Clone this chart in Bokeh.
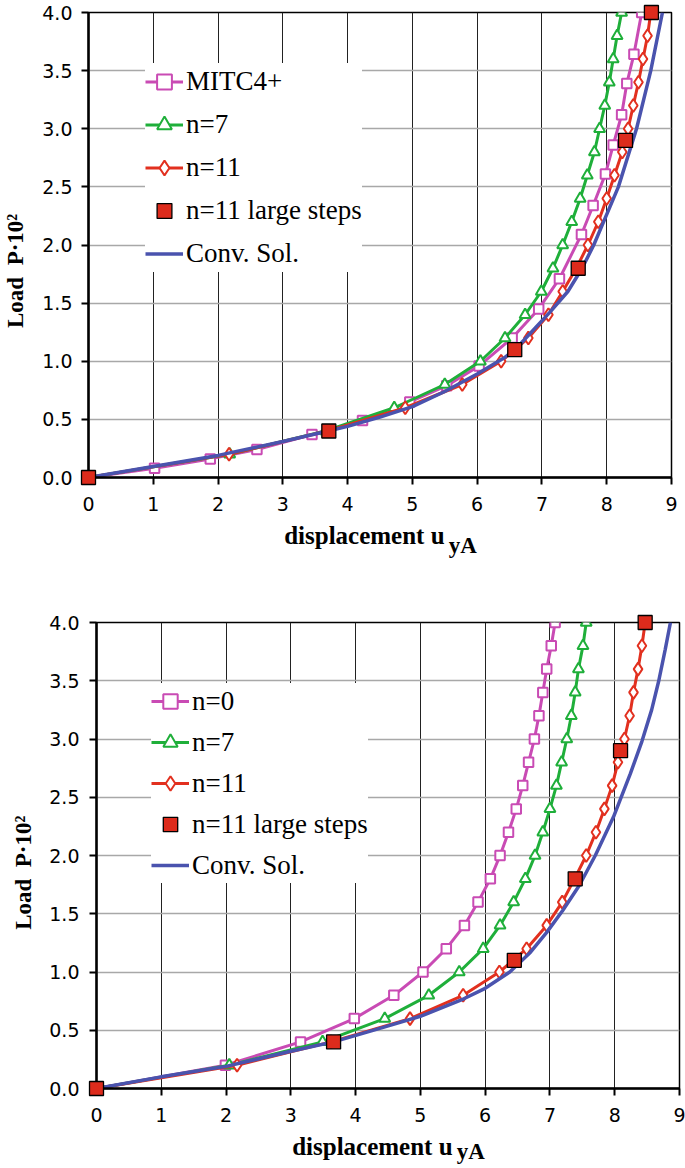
import numpy as np
from bokeh.plotting import figure
from bokeh.models import (Range1d, FixedTicker, PrintfTickFormatter, Legend, LegendItem,
                          LinearAxis)
from bokeh.embed import file_html
from bokeh.resources import INLINE

# ---------------- data ----------------
x_ticks = [0, 1, 2, 3, 4, 5, 6, 7, 8, 9]
y_ticks = [0.0, 0.5, 1.0, 1.5, 2.0, 2.5, 3.0, 3.5, 4.0]

load_steps = [0.0, 0.2, 0.4, 0.6, 0.8, 1.0, 1.2, 1.4, 1.6, 1.8, 2.0,
              2.2, 2.4, 2.6, 2.8, 3.0, 3.2, 3.4, 3.6, 3.8, 4.0]
large_steps_load = [0.0, 0.4, 1.1, 1.8, 2.9, 4.0]

# top chart
top_mitc_x = [0, 1.02, 1.88, 2.60, 3.45, 4.23, 4.96, 5.53, 6.03, 6.54, 6.95,
              7.27, 7.61, 7.79, 7.98, 8.10, 8.23, 8.31, 8.42, 8.54]
top_mitc_y = [0, 0.08, 0.16, 0.24, 0.37, 0.49, 0.65, 0.79, 0.96, 1.20, 1.45,
              1.71, 2.09, 2.34, 2.61, 2.86, 3.12, 3.39, 3.64, 4.00]
top_n7_x = [0, 2.18, 3.66, 4.72, 5.50, 6.05, 6.43, 6.74, 6.99, 7.17, 7.32,
            7.46, 7.59, 7.70, 7.81, 7.89, 7.97, 8.04, 8.10, 8.16, 8.23]
top_n11_x = [0, 2.17, 3.69, 4.89, 5.77, 6.37, 6.79, 7.10, 7.32, 7.53, 7.71,
             7.87, 8.00, 8.12, 8.24, 8.33, 8.41, 8.49, 8.56, 8.63, 8.68]
top_large_x = [0, 3.71, 6.58, 7.56, 8.29, 8.69]
top_conv_x = [0, 1, 2, 3, 3.7, 4, 4.5, 5, 5.5, 6, 6.42, 6.62, 7.12, 7.40,
              7.62, 7.80, 8.18, 8.46, 8.68, 8.86]
top_conv_y = [0, 0.095, 0.19, 0.31, 0.40, 0.44, 0.52, 0.61, 0.74, 0.89, 1.03,
              1.12, 1.42, 1.60, 1.80, 2.00, 2.50, 3.00, 3.50, 4.00]

# bottom chart
bot_n0_x = [0, 1.99, 3.15, 3.98, 4.59, 5.04, 5.40, 5.68, 5.89, 6.08, 6.23,
            6.36, 6.48, 6.58, 6.67, 6.76, 6.83, 6.89, 6.95, 7.02, 7.08]
bot_n7_x = [0, 2.05, 3.49, 4.45, 5.13, 5.60, 5.97, 6.23, 6.44, 6.62, 6.77,
            6.89, 7.00, 7.10, 7.18, 7.26, 7.33, 7.39, 7.44, 7.51, 7.56]
bot_n11_x = [0, 2.17, 3.62, 4.84, 5.66, 6.22, 6.64, 6.95, 7.19, 7.38, 7.56,
             7.71, 7.84, 7.96, 8.05, 8.15, 8.23, 8.29, 8.36, 8.42, 8.47]
bot_large_x = [0, 3.66, 6.45, 7.39, 8.09, 8.47]
bot_conv_x = [0, 1, 2, 3, 3.66, 4.4, 5.0, 5.67, 6.0, 6.38, 6.7, 6.95, 7.2,
              7.45, 7.7, 7.98, 8.24, 8.42, 8.57, 8.68, 8.78, 8.86]
bot_conv_y = [0, 0.10, 0.19, 0.32, 0.40, 0.52, 0.62, 0.77, 0.86, 1.00, 1.17,
              1.34, 1.53, 1.74, 2.00, 2.33, 2.70, 2.98, 3.25, 3.50, 3.77, 4.00]

# ---------------- style ----------------
MAG = "#C94BB4"
GRN = "#1FAF3A"
RED = "#E2301F"
BLU = "#4A53AE"
SQF = "#DD2B1C"
NB = "\u00a0"


def make_chart(height, b_left, b_right, b_top, b_bottom,
               first_name, first_x, first_y, n7_x, n11_x, large_x,
               conv_x, conv_y, legend_loc, row_h, row_gap, sub_pos, sub_standoff,
               ylab_pad, ytick_standoff, ylab_standoff):
    p = figure(width=685, height=height, output_backend="svg", toolbar_location=None,
               x_range=Range1d(0, 9), y_range=Range1d(0, 4),
               min_border_left=b_left, min_border_right=b_right,
               min_border_top=b_top, min_border_bottom=b_bottom)
    p.background_fill_color = "white"
    p.border_fill_color = "white"
    p.outline_line_color = "black"
    p.outline_line_width = 1.5

    p.xaxis.ticker = FixedTicker(ticks=x_ticks)
    p.yaxis.ticker = FixedTicker(ticks=y_ticks)
    p.yaxis.formatter = PrintfTickFormatter(format="%.1f")
    for ax in (p.xaxis, p.yaxis):
        ax.axis_line_width = 2.5
        ax.axis_line_color = "black"
        ax.major_tick_line_width = 2
        ax.major_tick_line_color = "black"
        ax.major_tick_in = 0
        ax.major_tick_out = 7
        ax.minor_tick_line_color = None
        ax.major_label_text_font = "DejaVu Sans"
        ax.major_label_text_font_size = "19px"
        ax.major_label_text_color = "black"
        ax.axis_label_text_font = "Liberation Serif"
        ax.axis_label_text_font_style = "bold"
        ax.axis_label_text_color = "black"
    p.xaxis.major_label_standoff = 12
    p.yaxis.major_label_standoff = ytick_standoff
    p.yaxis.axis_label = "Load" + NB + " P·10²" + NB * ylab_pad
    p.yaxis.axis_label_text_font_size = "23px"
    p.yaxis.axis_label_standoff = ylab_standoff
    p.xaxis.axis_label = "displacement u" + NB * 5
    p.xaxis.axis_label_text_font_size = "25px"
    p.xaxis.axis_label_standoff = 8

    # subscript of the axis title, drawn as the single tick label of an extra axis
    sub_axis = LinearAxis(ticker=FixedTicker(ticks=[sub_pos]),
                          formatter=PrintfTickFormatter(format="yA"))
    sub_axis.axis_line_color = None
    sub_axis.major_tick_in = 0
    sub_axis.major_tick_out = 0
    sub_axis.major_tick_line_color = None
    sub_axis.minor_tick_line_color = None
    sub_axis.major_label_standoff = sub_standoff
    sub_axis.major_label_text_font = "Liberation Serif"
    sub_axis.major_label_text_font_style = "bold"
    sub_axis.major_label_text_font_size = "23px"
    sub_axis.major_label_text_color = "black"
    p.add_layout(sub_axis, "below")

    p.xgrid.ticker = FixedTicker(ticks=x_ticks)
    p.ygrid.ticker = FixedTicker(ticks=y_ticks)
    p.xgrid.grid_line_color = "#222222"
    p.xgrid.grid_line_width = 1
    p.ygrid.grid_line_color = "#a8a8a8"
    p.ygrid.grid_line_width = 1.6

    r1l = p.line(first_x, first_y, line_color=MAG, line_width=3)
    r1m = p.scatter(first_x, first_y, marker="square", size=9.5, line_color=MAG,
                    line_width=2, fill_color="white")
    r2l = p.line(n7_x, load_steps, line_color=GRN, line_width=3)
    r2m = p.scatter(n7_x, load_steps, marker="triangle", size=11, line_color=GRN,
                    line_width=2, fill_color="white")
    r3l = p.line(n11_x, load_steps, line_color=RED, line_width=3)
    r3m = p.scatter(n11_x, load_steps, marker="diamond", size=13,
                    line_color=RED, line_width=2, fill_color="white")
    r5 = p.line(conv_x, conv_y, line_color=BLU, line_width=3.5)
    r4 = p.scatter(large_x, large_steps_load, marker="square", size=14,
                   line_color="black", line_width=1.3, fill_color=SQF, level="overlay")

    legend = Legend(items=[
        LegendItem(label=first_name, renderers=[r1l, r1m]),
        LegendItem(label="n=7", renderers=[r2l, r2m]),
        LegendItem(label="n=11", renderers=[r3l, r3m]),
        LegendItem(label="n=11 large steps", renderers=[r4]),
        LegendItem(label="Conv. Sol.", renderers=[r5]),
    ], location=legend_loc)
    legend.label_text_font = "Liberation Serif"
    legend.label_text_font_size = "27px"
    legend.label_text_color = "black"
    legend.glyph_width = 38
    legend.glyph_height = row_h
    legend.label_height = row_h
    legend.spacing = row_gap
    legend.padding = 5
    legend.margin = 0
    legend.label_standoff = 3
    legend.border_line_color = None
    legend.background_fill_color = "white"
    legend.background_fill_alpha = 1.0
    p.add_layout(legend)
    return p


p1 = make_chart(575, 86, 14, 12, 98, "MITC4+", top_mitc_x, top_mitc_y,
                top_n7_x, top_n11_x, top_large_x, top_conv_x, top_conv_y,
                (57, 205), 37, 6, 5.78, -19, 9, 9, 11)
p2 = make_chart(593, 96, 6, 47, 80, "n=0", bot_n0_x, load_steps,
                bot_n7_x, bot_n11_x, bot_large_x, bot_conv_x, bot_conv_y,
                (55, 205), 36, 5, 5.78, -24, 6, 10, 10)

open("out.html", "w").write(file_html([p1, p2], INLINE))
